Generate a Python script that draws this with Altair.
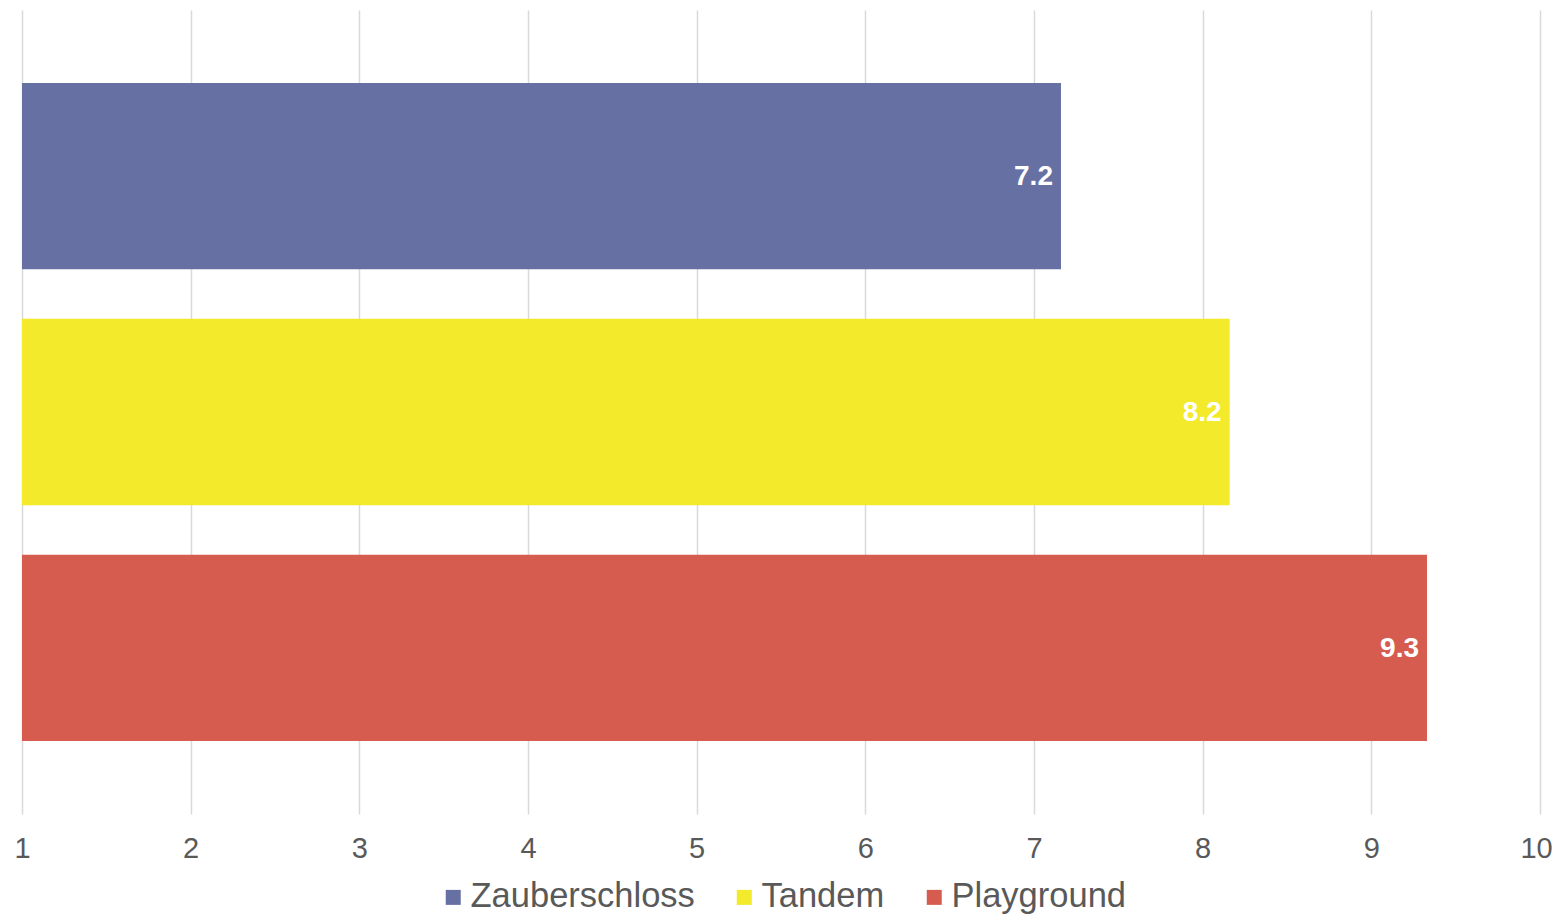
import altair as alt
import pandas as pd

categories = ["Zauberschloss", "Tandem", "Playground"]
values = [7.16, 8.16, 9.33]
colors = ["#6670A3", "#F2EA2A", "#D65C4F"]
x_ticks = [1, 2, 3, 4, 5, 6, 7, 8, 9, 10]

df = pd.DataFrame({"category": categories, "value": values})

FONT = "Liberation Sans"

y_enc = alt.Y(
    "category:N",
    sort=None,
    scale=alt.Scale(paddingInner=0.21, paddingOuter=0.31),
    axis=alt.Axis(labels=False, ticks=False, domain=False, grid=False, title=None),
)

bars = alt.Chart(df).mark_bar().encode(
    x=alt.X(
        "value:Q",
        scale=alt.Scale(domain=[1, 10], nice=False, zero=False),
        axis=alt.Axis(
            values=x_ticks,
            grid=True,
            gridColor="#D9D9D9",
            gridWidth=1.5,
            domain=False,
            ticks=False,
            labelFontSize=29,
            labelColor="#595959",
            labelFont=FONT,
            labelPadding=20,
            labelFlush=False,
            labelOffset=alt.condition("datum.value == 10", alt.value(-4), alt.value(0)),
            title=None,
            format="d",
        ),
    ),
    x2=alt.datum(1),
    y=y_enc,
    color=alt.Color(
        "category:N",
        sort=categories,
        scale=alt.Scale(domain=categories, range=colors),
        legend=alt.Legend(
            title=None,
            orient="none",
            direction="horizontal",
            legendX=414,
            legendY=870,
            symbolType="square",
            symbolSize=225,
            symbolStrokeWidth=0,
            symbolOpacity=1,
            labelFontSize=34.5,
            labelFont=FONT,
            labelColor="#595959",
            labelOffset=0,
            labelLimit=400,
            columnPadding=32,
        ),
    ),
)

labels = alt.Chart(df).mark_text(
    align="right",
    baseline="middle",
    dx=-8,
    dy=1,
    color="white",
    fontWeight="bold",
    fontSize=28,
    font=FONT,
).encode(
    x=alt.X("value:Q"),
    y=alt.Y("category:N", sort=None),
    text=alt.Text("value:Q", format=".1f"),
)

chart = (
    alt.layer(bars, labels)
    .properties(
        width=1518,
        height=804,
        autosize=alt.AutoSizeParams(type="none"),
        padding={"left": 14, "top": 2, "right": 13, "bottom": 102},
        background="white",
    )
    .configure_view(stroke=None)
)

chart.save("out.html", embed_options={"renderer": "svg", "actions": False})
